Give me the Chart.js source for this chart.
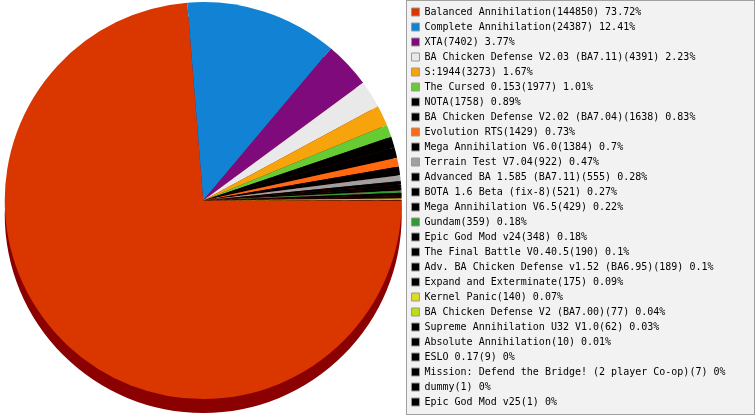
<!DOCTYPE html>
<html>
<head>
<meta charset="utf-8">
<script src="https://cdn.jsdelivr.net/npm/chart.js@4/dist/chart.umd.min.js"></script>
<style>
html,body{margin:0;padding:0;background:#fff;}
#wrap{position:relative;width:755px;height:415px;}
</style>
</head>
<body>
<div id="wrap"><canvas id="c"></canvas></div>
<script>
const categories = [
  "Balanced Annihilation",
  "Complete Annihilation",
  "XTA",
  "BA Chicken Defense V2.03 (BA7.11)",
  "S:1944",
  "The Cursed 0.153",
  "NOTA",
  "BA Chicken Defense V2.02 (BA7.04)",
  "Evolution RTS",
  "Mega Annihilation V6.0",
  "Terrain Test V7.04",
  "Advanced BA 1.585 (BA7.11)",
  "BOTA 1.6 Beta (fix-8)",
  "Mega Annihilation V6.5",
  "Gundam",
  "Epic God Mod v24",
  "The Final Battle V0.40.5",
  "Adv. BA Chicken Defense v1.52 (BA6.95)",
  "Expand and Exterminate",
  "Kernel Panic",
  "BA Chicken Defense V2 (BA7.00)",
  "Supreme Annihilation U32 V1.0",
  "Absolute Annihilation",
  "ESLO 0.17",
  "Mission: Defend the Bridge! (2 player Co-op)",
  "dummy",
  "Epic God Mod v25"
];
const games = [144850, 24387, 7402, 4391, 3273, 1977, 1758, 1638, 1429, 1384, 922, 555, 521, 429, 359, 348, 190, 189, 175, 140, 77, 62, 10, 9, 7, 1, 1];
const sliceColors = [
  "#D93600", "#1283D4", "#7F0A7C", "#E9E9E9", "#F7A40C", "#66CC33", "#000000",
  "#000000", "#FF6A10", "#000000", "#A0A0A0", "#000000", "#000000", "#000000",
  "#339933", "#000000", "#000000", "#000000", "#000000", "#DCDC22", "#BBDD11",
  "#000000", "#000000", "#000000", "#000000", "#000000", "#000000"
];

const total = games.reduce((a, b) => a + b, 0);
function pct(v) { return parseFloat((v / total * 100).toFixed(2)); }

Chart.defaults.font.family = "'DejaVu Sans Mono', monospace";
Chart.defaults.font.size = 10;
Chart.defaults.color = "#000";

function spacer(position, weight, w, h) {
  return {
    position, weight, fullSize: false,
    options: {},
    isHorizontal() { return position === 'top' || position === 'bottom'; },
    update(maxW, maxH) {
      this.width = this.isHorizontal() ? maxW : w;
      this.height = this.isHorizontal() ? h : maxH;
    },
    draw() {}
  };
}

const layoutPlugin = {
  id: 'layoutSpacers',
  beforeInit(chart) {
    Chart.layouts.addBox(chart, spacer('bottom', 0, 0, 16));
  }
};

const legendBg = {
  id: 'legendBg',
  beforeDraw(chart) {
    const lg = chart.legend;
    const ctx = chart.ctx;
    ctx.save();
    ctx.fillStyle = '#F2F2F2';
    ctx.strokeStyle = '#A0A0A0';
    ctx.lineWidth = 1;
    const x = Math.floor(lg.left) + 0.5;
    ctx.fillRect(x, 0.5, chart.width - x - 0.5, chart.height - 1);
    ctx.strokeRect(x, 0.5, chart.width - x - 0.5, chart.height - 1);
    ctx.restore();
  }
};

const shadow = {
  id: 'pieShadow',
  beforeDatasetsDraw(chart) {
    const ctx = chart.ctx;
    const meta = chart.getDatasetMeta(0);
    ctx.save();
    ctx.translate(0, 14);
    ctx.fillStyle = '#8B0000';
    meta.data.forEach(arc => {
      const p = arc.getProps(['x', 'y', 'startAngle', 'endAngle', 'outerRadius'], true);
      ctx.beginPath();
      ctx.moveTo(p.x, p.y);
      ctx.arc(p.x, p.y, p.outerRadius, p.startAngle, p.endAngle);
      ctx.closePath();
      ctx.fill();
    });
    ctx.restore();
  }
};

new Chart(document.getElementById('c'), {
  type: 'pie',
  data: {
    labels: categories,
    datasets: [{
      data: games,
      backgroundColor: sliceColors,
      borderWidth: 0,
      hoverOffset: 0
    }]
  },
  options: {
    responsive: true,
    maintainAspectRatio: false,
    animation: false,
    rotation: 90,
    layout: { padding: { top: 2, left: -4, right: 19.5, bottom: 0 } },
    plugins: {
      tooltip: { enabled: false },
      legend: {
        position: 'right',
        align: 'start',
        labels: {
          boxWidth: 8,
          boxHeight: 8,
          padding: 5,
          color: '#000',
          font: { family: "'DejaVu Sans Mono', monospace", size: 10 },
          generateLabels(chart) {
            const ds = chart.data.datasets[0];
            return chart.data.labels.map((l, i) => ({
              text: l + '(' + ds.data[i] + ') ' + pct(ds.data[i]) + '%',
              fillStyle: ds.backgroundColor[i],
              strokeStyle: '#999999',
              lineWidth: 1,
              fontColor: '#000',
              hidden: false,
              index: i
            }));
          }
        }
      }
    }
  },
  plugins: [layoutPlugin, legendBg, shadow]
});
</script>
</body>
</html>
